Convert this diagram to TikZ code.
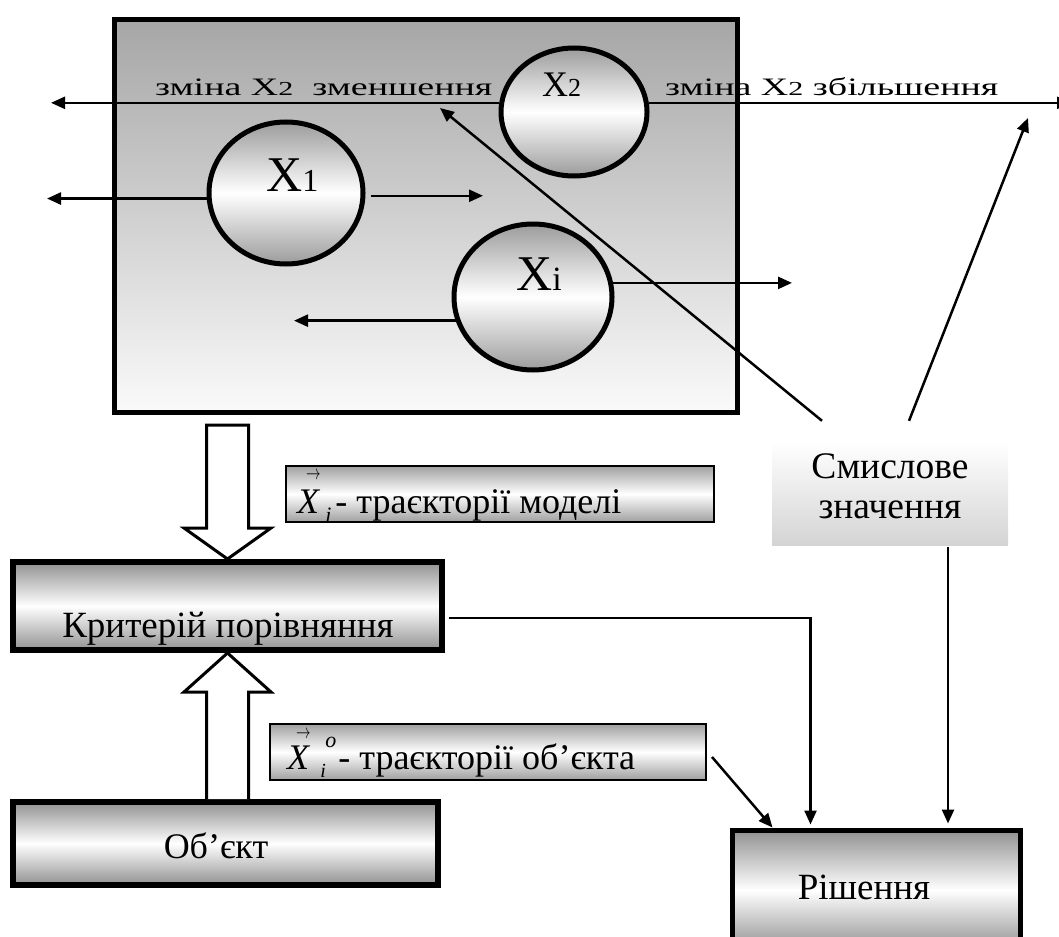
\documentclass[tikz,border=0pt]{standalone}
\usepackage{graphicx}
\usepackage{fontspec}
\setmainfont{Liberation Serif}
\usetikzlibrary{arrows.meta,shapes.geometric,calc}
\definecolor{paneltop}{RGB}{166,166,166}
\definecolor{panelbot}{RGB}{250,250,250}
\definecolor{ovalgray}{RGB}{156,156,156}
\definecolor{blockgray}{RGB}{145,145,145}
\definecolor{taggray}{RGB}{160,160,160}
\definecolor{notegray}{RGB}{212,212,212}
\newcommand{\setfs}[1]{\fontsize{#1}{#1}\selectfont}
\newcommand{\squashtext}[1]{\scalebox{1}[0.66]{#1}}
\newcommand{\vecmark}[2]{\rlap{\hspace{#1}\raisebox{#2}{\scalebox{0.7}[1]{\setfs{20}$\rightarrow$}}}}
\begin{document}
\begin{tikzpicture}[x=1pt,y=-1pt,
  arr/.style={line width=2.5pt,-{Triangle[length=14pt,width=12pt]}},
  panel/.style={rectangle,draw,line width=5pt,inner sep=0pt,top color=paneltop,bottom color=panelbot},
  oval/.style={ellipse,draw,line width=5pt,inner sep=0pt,top color=ovalgray,bottom color=ovalgray,middle color=white},
  block/.style={rectangle,draw,line width=6pt,inner sep=0pt,top color=blockgray,bottom color=blockgray,middle color=white},
  tag/.style={rectangle,draw,line width=2pt,inner sep=0pt,top color=taggray,bottom color=taggray,middle color=white},
  note/.style={rectangle,inner sep=0pt,top color=white,bottom color=notegray},
  hollow/.style={draw,line width=3pt,fill=white,line join=miter},
  txt/.style={inner sep=0pt,font=\setfs{36}},
]
\useasboundingbox (0,0) rectangle (1059,936);
\clip (0,0) rectangle (1059,936);

% model panel with the state variables
\node[panel,minimum width=623,minimum height=392] (model) at (425.5,216) {};
\node[oval,minimum width=146,minimum height=128] (x2) at (574,112) {};
\node[oval,minimum width=154,minimum height=142] (x1) at (286,193) {};
\node[oval,minimum width=158,minimum height=146] (xi) at (533,297) {};

\node[txt,anchor=base west] (x2t) at (542,97) {X{\setfs{26}2}};
\node[txt,anchor=base west,font=\setfs{50}] (x1t) at (266,192) {X{\setfs{32}1}};
\node[txt,anchor=base west,font=\setfs{50}] (xit) at (516,290) {X{\setfs{34}i}};

% free ends of the variation arrows
\coordinate (lt) at (51,103);
\coordinate (rt) at (1071,103);
\coordinate (x1l) at (47,198);
\coordinate (x1r) at (483,195);
\coordinate (xir) at (792,283);
\coordinate (xil) at (294,322);

\draw[arr] (x2.173) -- (x2.173 -| lt);
\draw[arr] (x2.7) -- (x2.7 -| rt);
\draw[arr] (x1.184) -- (x1.184 -| x1l);
\draw[arr,shorten <=6pt] (x1.358) -- (x1.358 -| x1r);
\draw[arr] (xi.10) -- (xi.10 -| xir);
\draw[arr] (xi.197) -- (xi.197 -| xil);

\node[txt,anchor=base west,font=\setfs{38}] (dec) at (155,96) {\squashtext{зміна X{\setfs{30}2}\ \ зменшення}};
\node[txt,anchor=base west,font=\setfs{38}] (inc) at (665,96) {\squashtext{зміна X{\setfs{30}2} збільшення}};

% blocks of the lower part
\node[block,minimum width=429,minimum height=88] (krit) at (227.5,606) {};
\node[block,minimum width=425,minimum height=83] (obj) at (225.5,843.5) {};
\node[block,line width=5pt,minimum width=288,minimum height=120] (rish) at (876,890) {};
\node[tag,minimum width=428,minimum height=56] (tag1) at (500,494) {};
\node[tag,minimum width=436,minimum height=56] (tag2) at (488,752) {};
\node[note,minimum width=236,minimum height=103] (note) at (890,493.5) {};

\node[txt,anchor=base,font=\setfs{37}] (kritt) at (228,637) {Критерій порівняння};
\node[txt,anchor=base,font=\setfs{36}] (objt) at (216,858) {Об’єкт};
\node[txt,anchor=base,font=\setfs{37}] (risht) at (864,899) {Рішення};
\node[txt,anchor=base,font=\setfs{37.5}] (note1) at (890,478) {Смислове};
\node[txt,anchor=base,font=\setfs{37.5}] (note2) at (890,518) {значення};
\node[txt,anchor=base west] (tag1t) at (297,513)
  {\vecmark{9pt}{34pt}\textit{X}\hspace{5pt}\raisebox{-9pt}{\setfs{22}\textit{i}}\hspace{4pt}- траєкторії моделі};
\node[txt,anchor=base west] (tag2t) at (287,769)
  {\vecmark{9pt}{31pt}\textit{X}\rlap{\hspace{10pt}\raisebox{-8pt}{\setfs{20}\textit{i}}}\hspace{15pt}\raisebox{22pt}{\setfs{22}\textit{o}}\hspace{2pt}- траєкторії об’єкта};

% hollow block arrows
\draw[hollow] (krit.north) -- ++(-43.5,-31) -- ++(22.5,0) -- ++(0,-103) -- ++(42,0)
  -- ++(0,103) -- ++(22.5,0) -- cycle;
\draw[hollow] ($(krit.south)+(21,146)$) -- ++(0,-107) -- ++(22.5,0) -- (krit.south)
  -- ++(-43.5,39) -- ++(22.5,0) -- ++(0,107);

% meaning arrows
\coordinate (d1) at (440,108);
\coordinate (d2) at (1028,118);
\draw[arr] ($(note.north)+(-68,-21)$) -- (d1);
\draw[arr] ($(note.north)+(19,-21)$) -- (d2);

% inputs of the decision block
\coordinate (rin1) at ($(rish.north west)+(81,0)$);
\coordinate (rin2) at ($(rish.north west)+(218.5,0)$);
\coordinate (rin3) at ($(rish.north west)+(43,0)$);
\draw[arr,line join=miter,shorten >=3pt] ($(krit.east)+(4,12)$) -| (rin1);
\draw[arr,shorten <=2pt,shorten >=4pt] (note.south -| rin2) -- (rin2);
\draw[arr] ($(tag2.east)+(5,5)$) -- (rin3);
\end{tikzpicture}
\end{document}
